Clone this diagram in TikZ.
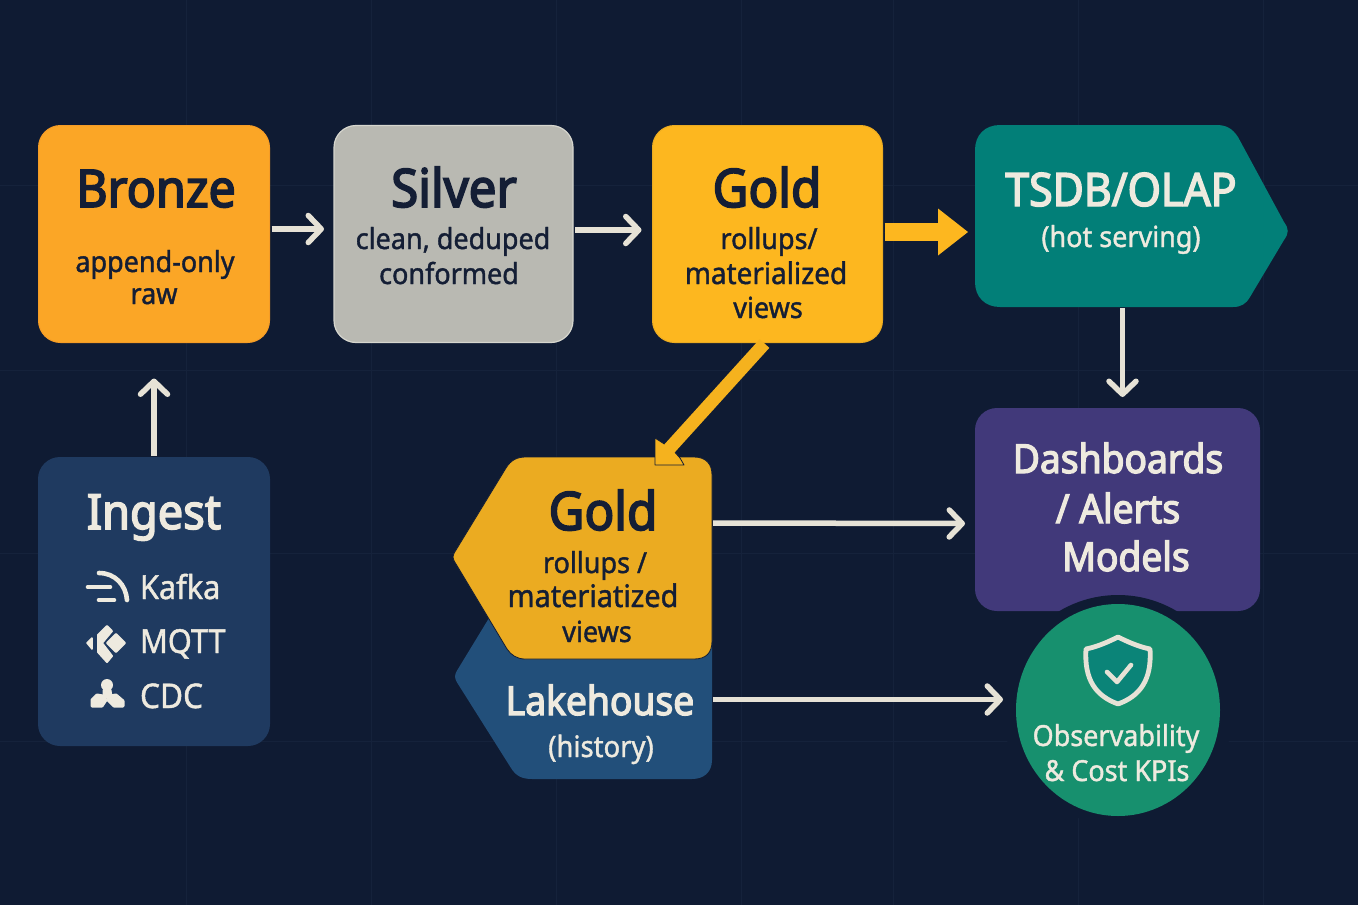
\documentclass[tikz,border=0pt]{standalone}
\usepackage{fontspec}
\setmainfont{Noto Sans}[Ligatures=TeX]
\newfontfamily\medfont{Noto Sans}[FakeBold=1.3,FakeStretch=0.93]
\newfontfamily\titlefont{Noto Sans}[FakeBold=3.2,FakeStretch=0.93]
\usetikzlibrary{arrows.meta,calc,shapes.geometric}
\definecolor{bg}{HTML}{0F1B33}
\definecolor{gridc}{HTML}{15223B}
\definecolor{bronzec}{HTML}{FBA626}
\definecolor{bronzee}{HTML}{F59C26}
\definecolor{silverc}{HTML}{B9B9B2}
\definecolor{silvere}{HTML}{D6D6CE}
\definecolor{goldc}{HTML}{FDB71F}
\definecolor{goldb}{HTML}{EBAB21}
\definecolor{golda}{HTML}{F5B21E}
\definecolor{tealc}{HTML}{027F78}
\definecolor{purplec}{HTML}{41397A}
\definecolor{ingestc}{HTML}{1F3A60}
\definecolor{lakec}{HTML}{224F7A}
\definecolor{obsc}{HTML}{17906E}
\definecolor{shieldc}{HTML}{0B8478}
\definecolor{inkc}{HTML}{141E35}
\definecolor{lightc}{HTML}{EEEADF}
\definecolor{arrowc}{HTML}{E6E2D6}
\tikzset{
  anchorbox/.style={rectangle,inner sep=0pt,outer sep=0pt},
  tbase/.style={anchor=base,inner sep=0pt,outer sep=0pt},
  title/.style={tbase,font=\titlefont\fontsize{#1}{#1}\selectfont},
  sub/.style={tbase,font=\medfont\fontsize{#1}{#1}\selectfont},
  darktext/.style={text=inkc},
  lighttext/.style={text=lightc},
  flow/.style={draw=arrowc,line width=5.5pt,-{Straight Barb[round,length=13pt,width=27pt,line width=5.5pt]}},
  icon/.style={draw=lightc,line cap=round,line join=round},
  iconfill/.style={fill=lightc,draw=lightc,line join=round},
}
\begin{document}
\begin{tikzpicture}[x=1pt,y=-1pt]
\useasboundingbox (0,0) rectangle (1358,905);
\fill[bg] (0,0) rectangle (1358,905);
% faint grid
\foreach \g in {185,370,553,741} \draw[gridc,line width=0.8pt] (0,\g) -- (1358,\g);
\foreach \g in {186,371,556,741,893,1078,1263} \draw[gridc,line width=0.8pt] (\g,0) -- (\g,905);

% boxes
\node[anchorbox,minimum width=231pt,minimum height=217pt,fill=bronzec,draw=bronzee,line width=1pt,rounded corners=22pt] (bronze) at (154,234) {};
\node[anchorbox,minimum width=239pt,minimum height=217pt,fill=silverc,draw=silvere,line width=1.2pt,rounded corners=22pt] (silver) at (453.5,234) {};
\node[anchorbox,minimum width=230pt,minimum height=217pt,fill=goldc,draw=goldb,line width=1pt,rounded corners=22pt] (gold) at (767.5,234) {};
\node[anchorbox,minimum width=232pt,minimum height=289pt,fill=ingestc,rounded corners=22pt] (ingest) at (154,601.5) {};
\node[anchorbox,minimum width=285pt,minimum height=203pt,fill=purplec,rounded corners=22pt] (dash) at (1117.5,509.5) {};

% pentagon boxes
\node[anchorbox,minimum width=313pt,minimum height=182pt] (tsdb) at (1131.5,216) {};
\fill[tealc] (1100,125) -- (1216,125) .. controls (1226,125) and (1232,128) .. (1238,137)
  -- (1284,222) .. controls (1289,229) and (1289,233) .. (1284,240)
  -- (1250,297) .. controls (1246,304) and (1241,307) .. (1233,307)
  -- (1000,307) .. controls (985,307) and (975,297) .. (975,282)
  -- (975,150) .. controls (975,135) and (985,125) .. (1000,125) -- cycle;
\node[anchorbox,minimum width=257pt,minimum height=159pt] (lake) at (583.5,699.5) {};
\fill[lakec] (712,600) -- (712,760) .. controls (712,772) and (704,779) .. (692,779)
  -- (532,779) .. controls (522,779) and (516,776) .. (511,768)
  -- (458,684) .. controls (454,678) and (454,675) .. (458,669)
  -- (500,600) -- cycle;
\node[anchorbox,minimum width=259pt,minimum height=202pt] (goldb) at (582.5,558) {};
\filldraw[fill=goldb,draw=inkc,line width=0.8pt] (600,457) -- (694,457) .. controls (706,457) and (712,464) .. (712,475)
  -- (712,641) .. controls (712,653) and (706,659) .. (694,659)
  -- (525,659) .. controls (517,659) and (511,655) .. (507,649)
  -- (456,564) .. controls (452,558) and (452,556) .. (456,550)
  -- (506,468) .. controls (511,460) and (517,457) .. (526,457) -- cycle;

% observability circle
\fill[bg] (1118,710) circle (115);
\node[anchorbox,ellipse,minimum width=204pt,minimum height=212pt,fill=obsc] (obs) at (1118,710) {};
% shield
\filldraw[fill=shieldc,draw=arrowc,line width=4.8pt,line join=round]
  (1118,637) .. controls (1130,643) and (1140,647) .. (1150,649)
  .. controls (1152,680) and (1140,696) .. (1118,704)
  .. controls (1096,696) and (1084,680) .. (1086,649)
  .. controls (1096,647) and (1106,643) .. (1118,637) -- cycle;
\draw[arrowc,line width=4.6pt,line cap=round,line join=round] (1107,672) -- (1117,682) -- (1131,665);

% connectors
\draw[flow] ([xshift=2pt,yshift=5pt]bronze.east) -- ([xshift=-10pt,yshift=5pt]silver.west);
\draw[flow] ([xshift=2pt,yshift=4pt]silver.east) -- ([xshift=-11pt,yshift=4pt]gold.west);
\draw[draw=goldc,fill=goldc,line width=18pt,-{Triangle[length=30pt,width=47pt,line width=0pt,round]}] ([xshift=2pt,yshift=2pt]gold.east) -- ([xshift=-7pt,yshift=-16pt]tsdb.west);
\draw[flow] (tsdb.south -| dash.north) ++(5,1) -- ([xshift=5pt,yshift=11pt]dash.north);
\draw[flow] (ingest.north) ++(0,-1) -- ([yshift=-36pt]bronze.south);
\draw[flow] ([xshift=1pt,yshift=35pt]goldb.east) -- ([xshift=-10pt,yshift=-14pt]dash.west);
\draw[flow] ([xshift=1pt]lake.east) -- ([xshift=-13pt]obs.west |- lake.east);
\filldraw[fill=golda,draw=inkc,line width=0.8pt,line join=round] (655,465) -- (684,465) -- (680,458) -- (672,449) -- (655,438) -- cycle;
\draw[draw=golda,line width=13pt,shorten >=10pt] ([xshift=-3pt,yshift=-1pt]gold.south) -- ([xshift=72pt,yshift=-8pt]goldb.north);

% text
\node[title=52,darktext] (tbronze) at (156,207) {Bronze};
\node[sub=29,darktext] (tbronze1) at (155,272) {append-only};
\node[sub=29,darktext] (tbronze2) at (154,304) {raw};
\node[title=53,darktext] (tsilver) at (454,207) {Silver};
\node[sub=29,darktext] (tsilver1) at (453,249) {clean, deduped};
\node[sub=29,darktext] (tsilver2) at (449,284) {conformed};
\node[title=53,darktext] (tgold) at (767,207) {Gold};
\node[sub=29,darktext] (tgold1) at (769,249) {rollups/};
\node[sub=30,darktext] (tgold2) at (766,284) {materialized};
\node[sub=29,darktext] (tgold3) at (768,318) {views};
\node[title=46,lighttext] (ttsdb) at (1121,206) {TSDB/OLAP};
\node[sub=29,lighttext] (ttsdb1) at (1121,247) {(hot serving)};
\node[title=48.5,lighttext] (tingest) at (154,529) {Ingest};
\node[sub=33,lighttext,anchor=base west] (tkafka) at (140,599) {Kafka};
\node[sub=33,lighttext,anchor=base west] (tmqtt) at (140,653) {MQTT};
\node[sub=34,lighttext,anchor=base west] (tcdc) at (140,708) {CDC};
\node[title=53,darktext] (tgoldb) at (603,530) {Gold};
\node[sub=29,darktext] (tgoldb1) at (595,573) {rollups /};
\node[sub=31,darktext] (tgoldb2) at (593,607) {materiatized};
\node[sub=29,darktext] (tgoldb3) at (597,642) {views};
\node[title=40,lighttext] (tlake) at (600,715) {Lakehouse};
\node[sub=29.5,lighttext] (tlake1) at (601,757) {(history)};
\node[title=40,lighttext] (tdash) at (1118,473) {Dashboards};
\node[title=40,lighttext] (tdash1) at (1118,523) {/ Alerts};
\node[title=40,lighttext] (tdash2) at (1126,571) {Models};
\node[sub=29,lighttext] (tobs) at (1116,746) {Observability};
\node[sub=29,lighttext] (tobs1) at (1117,781) {\& Cost KPIs};

% Kafka icon
\draw[icon,line width=4.6pt] (99,573) .. controls (115,573) and (126,585) .. (127,600);
\draw[icon,line width=4.6pt] (88,587) -- (110,587);
\draw[icon,line width=4.6pt] (99,600) -- (114,600);
% MQTT icon
\filldraw[iconfill,line width=1.5pt] (87,643) -- (92,638) -- (92,649) -- cycle;
\filldraw[iconfill,line width=2pt] (107,626) -- (112,631) -- (102,643) -- (112,656) -- (107,662) -- (98,652) -- (98,635) -- cycle;
\filldraw[iconfill,line width=2pt] (116,634) -- (125,643) -- (116,652) -- (107,643) -- cycle;
% CDC icon
\fill[lightc] (107,685) circle (6);
\filldraw[iconfill,line width=3pt] (104,690) -- (110,690) -- (111,697) -- (104,697) -- cycle;
\filldraw[iconfill,line width=3pt] (103,696) -- (97,695) -- (92,700) -- (92,706) -- (102,706) -- (106,700) -- cycle;
\filldraw[iconfill,line width=3pt] (110,696) -- (116,695) -- (123,701) -- (123,706) -- (114,706) -- (108,700) -- cycle;
\end{tikzpicture}
\end{document}
